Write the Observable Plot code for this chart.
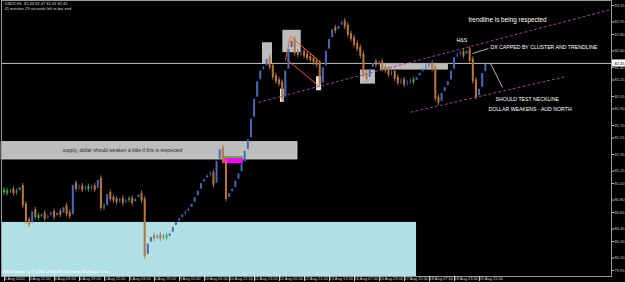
<!DOCTYPE html>
<html><head><meta charset="utf-8">
<script src="https://cdn.jsdelivr.net/npm/d3@7"></script>
<script src="https://cdn.jsdelivr.net/npm/@observablehq/plot@0.6"></script>
<style>html,body{margin:0;padding:0;background:#000;overflow:hidden}</style>
</head><body><div id="chart"></div>
<script>
// ---- text ----
const symbolInfo = "USDX,H1  82.44 82.47 82.43 82.45";
const timerInfo = "41 minutes 29 seconds left to bar end";
const copyright = "MetaTrader 4, \u00a9 2001-2009 MetaQuotes Software Corp.";

// ---- price series (2-hour closes) ----
const firstOpen = 80.91;
const closes = [
  80.90, 80.89, 80.92, 80.89, 80.90, 80.96, 80.74, 80.55, 80.51, 80.67,
  80.60, 80.59, 80.63, 80.58, 80.61, 80.65, 80.60, 80.65, 80.63, 80.72,
  80.64, 80.61, 80.99, 80.94, 80.96, 80.93, 80.95, 80.94, 80.96, 80.93,
  81.05, 80.71, 80.72, 80.88, 80.82, 80.80, 80.78, 80.81, 80.77, 80.80,
  80.81, 80.77, 80.82, 80.87, 80.80, 80.13, 80.28, 80.36, 80.34, 80.37,
  80.34, 80.36, 80.35, 80.40, 80.48, 80.54, 80.58, 80.63, 80.66, 80.70,
  80.76, 80.84, 80.92, 81.01, 81.06, 81.10, 81.12, 80.99, 81.28, 81.42,
  81.28, 80.82, 80.89, 80.94, 81.04, 81.13, 81.25, 81.40, 81.54, 81.79,
  82.03, 82.24, 82.37, 82.41, 82.51, 82.41, 82.29, 82.24, 82.21, 82.03,
  82.37, 82.63, 82.73, 82.58, 82.56, 82.58, 82.55, 82.52, 82.50, 82.47,
  82.44, 82.20, 82.41, 82.61, 82.75, 82.87, 82.85, 82.91, 82.95, 82.90,
  82.80, 82.75, 82.68, 82.63, 82.55, 82.32, 82.27, 82.39, 82.46, 82.44,
  82.46, 82.39, 82.37, 82.32, 82.34, 82.27, 82.22, 82.24, 82.20, 82.22,
  82.24, 82.23, 82.29, 82.34, 82.39, 82.41, 82.44, 82.39, 82.03, 81.98,
  82.10, 82.17, 82.24, 82.37, 82.53, 82.56, 82.58, 82.55, 82.61, 82.49,
  82.24, 82.05, 82.15, 82.34, 82.45
];
const hoursPerBar = 2;
const lastPrice = 82.45;

// ---- axes ----
const xTickLabels = ["2 Aug 2010","3 Aug 11:00","4 Aug 03:00","4 Aug 19:00","5 Aug 11:00","6 Aug 03:00","6 Aug 19:00","9 Aug 11:00","10 Aug 05:00","10 Aug 21:00","11 Aug 13:00","12 Aug 05:00","12 Aug 21:00","13 Aug 13:00","16 Aug 07:00","16 Aug 23:00","17 Aug 15:00","18 Aug 07:00","18 Aug 23:00","19 Aug 15:00"];
const xTickStep = 16; // hours between labels
const yTicks = [83.15, 82.95, 82.80, 82.60, 82.40, 82.25, 82.05, 81.90, 81.70, 81.55, 81.35, 81.15, 81.00, 80.80, 80.65, 80.45, 80.30, 80.10, 79.95];
const xDomain = [-0.64, 389.76];   // hours since 2 Aug 00:00
const yDomain = [79.877, 83.21];

// ---- annotations (hour index, price) ----
const demandZone = [[-0.64, 265.0, 79.877, 80.53]];
const supplyZone = [[-0.64, 188.8, 81.29, 81.50]];
const magentaZone = [[140.8, 154.2, 81.24, 81.31]];
const greenEdge = [[140.8, 154.2, 81.322]];
const grayBoxes = [[166.4, 172.8, 82.44, 82.70], [179.4, 191.2, 82.58, 82.85], [229.1, 238.7, 82.20, 82.37], [241.9, 285.4, 82.37, 82.44]];
const whiteBoxes = [[177.9, 180.3, 81.98, 82.14], [201.0, 204.2, 82.12, 82.29]];
const orangeLines = [[181.1, 82.49, 184.3, 82.78], [184.3, 82.78, 204.2, 82.45], [182.4, 82.49, 202.2, 82.18]];
const channelLines = [[163.8, 81.98, 389.1, 83.10], [261.1, 81.86, 360.3, 82.29]];
const pointerLines = [[300.8, 82.57, 311.0, 82.63], [312.3, 82.45, 320.0, 82.16]];
const headline = ["trendline is being respected"];
const headlineX = [298.2];
const headlineY = [82.98];
const noteTexts = ["H&S", "DX CAPPED BY CLUSTER AND TRENDLINE", "SHOULD TEST NECKLINE", "DOLLAR WEAKENS - AUD NORTH"];
const noteX = [290.6, 312.3, 315.5, 311.0];
const noteY = [82.73, 82.64, 82.02, 81.89];
const supplyNote = ["supply, dollar should weaken a little if this is respected"];
const supplyNoteX = [76.8];
const supplyNoteY = [81.40];

// ---- build tables ----
const bars = closes.map((c, j) => ({
  h: hoursPerBar * j + 1,
  open: j ? closes[j - 1] : firstOpen,
  close: c
}));
const candleColor = d => Math.abs(d.close - d.open) < 0.012 ? "#3cae3c" : d.close > d.open ? "#4868b8" : "#b8763c";
const rect4 = a => a.map(([x1, x2, y1, y2]) => ({x1, x2, y1, y2}));
const seg4 = a => a.map(([x1, y1, x2, y2]) => ({x1, y1, x2, y2}));
const notes = noteTexts.map((t, i) => ({t, x: noteX[i], y: noteY[i]}));
const font = "Liberation Sans, Arial, sans-serif";

const chart = Plot.plot({
  width: 625, height: 282,
  marginLeft: 1, marginRight: 14, marginTop: 0, marginBottom: 6,
  style: {background: "#000", color: "#c8c8c8", fontFamily: font, overflow: "visible"},
  x: {domain: xDomain},
  y: {domain: yDomain},
  marks: [
    Plot.rect(rect4(demandZone), {x1: "x1", x2: "x2", y1: "y1", y2: "y2", fill: "#b0e0e6"}),
    Plot.rect(rect4(supplyZone), {x1: "x1", x2: "x2", y1: "y1", y2: "y2", fill: "#bdbdbd", stroke: "#d8d8d8", strokeWidth: 0.8}),
    Plot.rect(rect4(grayBoxes), {x1: "x1", x2: "x2", y1: "y1", y2: "y2", fill: "#bcbcbc"}),
    Plot.rect(rect4(whiteBoxes), {x1: "x1", x2: "x2", y1: "y1", y2: "y2", fill: "#e6e6e6"}),
    Plot.rect(rect4(magentaZone), {x1: "x1", x2: "x2", y1: "y1", y2: "y2", fill: "#ff00ff"}),
    Plot.ruleY(greenEdge.map(([x1, x2, y]) => ({x1, x2, y})), {x1: "x1", x2: "x2", y: "y", stroke: "#33cc33", strokeWidth: 1.5}),
    Plot.ruleY([lastPrice], {stroke: "#c0c0c0", strokeWidth: 1}),
    Plot.link(seg4(channelLines), {x1: "x1", y1: "y1", x2: "x2", y2: "y2", stroke: "#a23ca6", strokeWidth: 1, strokeDasharray: "3,2"}),
    Plot.link(seg4(orangeLines), {x1: "x1", y1: "y1", x2: "x2", y2: "y2", stroke: "#ff5a24", strokeWidth: 1}),
    Plot.link(seg4(pointerLines), {x1: "x1", y1: "y1", x2: "x2", y2: "y2", stroke: "#e0e0e0", strokeWidth: 0.8}),
    // wicks
    Plot.ruleX(bars, {x: "h", y1: "open", y2: "close", stroke: candleColor, strokeWidth: 0.9, insetTop: -3.5, insetBottom: -3.5}),
    // bodies
    Plot.ruleX(bars, {x: "h", y1: "open", y2: "close", stroke: candleColor, strokeWidth: 2, insetTop: -1, insetBottom: -1}),
    Plot.text(supplyNote, {x: supplyNoteX, y: supplyNoteY, text: d => d, fill: "#2a2a2a", fontSize: 5, textAnchor: "middle"}),
    Plot.text(headline, {x: headlineX, y: headlineY, text: d => d, fill: "#ffffff", fontSize: 6.4, textAnchor: "start"}),
    Plot.text(notes, {x: "x", y: "y", text: "t", fill: "#ffffff", fontSize: 5.2, textAnchor: "start"}),
    Plot.text([symbolInfo], {frameAnchor: "top-left", dx: 3, dy: 2, fill: "#d8d8d8", fontSize: 4, lineAnchor: "top"}),
    Plot.text([timerInfo], {frameAnchor: "top-left", dx: 3, dy: 7, fill: "#d8d8d8", fontSize: 4, lineAnchor: "top"}),
    Plot.text([copyright], {frameAnchor: "bottom-left", dx: 2, dy: -4, fill: "#ffffff", fontSize: 4.3, lineAnchor: "bottom", textAnchor: "start"}),
    Plot.frame({stroke: "#9a9a9a", strokeWidth: 1}),
    Plot.axisX({ticks: xTickLabels.map((_, i) => i * xTickStep), tickFormat: d => xTickLabels[Math.round(d / xTickStep)], tickSize: 5, tickPadding: -4, textAnchor: "start", dx: 2, fontSize: 4, color: "#d0d0d0"}),
    Plot.axisY({anchor: "right", ticks: yTicks, tickFormat: d3.format(".2f"), tickSize: 2, tickPadding: 1, fontSize: 4, color: "#c8c8c8"}),
    Plot.rect([lastPrice], {x1: xDomain[1], x2: xDomain[1], y1: d => d, y2: d => d, insetLeft: 1, insetRight: -14, insetTop: -3.5, insetBottom: -3.5, fill: "#ffffff"}),
    Plot.text([lastPrice], {x: xDomain[1], y: d => d, text: d => d.toFixed(2), dx: 3, textAnchor: "start", fill: "#000", fontSize: 4})
  ]
});
document.getElementById("chart").appendChild(chart);
</script>
</body></html>
